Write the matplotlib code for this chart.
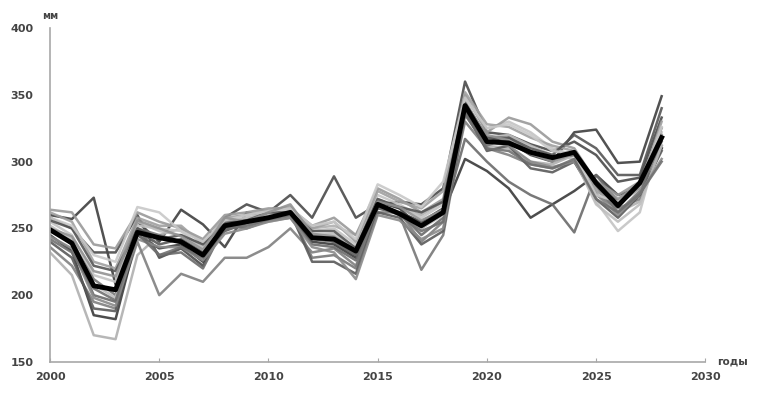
import matplotlib.pyplot as plt

years = list(range(2000, 2029))

# mean over ensemble (thick black line)
mean = [249, 239, 207, 204, 247, 243, 240, 230, 252, 255, 258, 262, 243, 242, 233,
        268, 261, 252, 262, 342, 315, 314, 307, 303, 307, 284, 267, 284, 318]

# ensemble members (grey lines)
m1 = [260, 257, 273, 208, 255, 240, 264, 253, 236, 262, 258, 262, 245, 240, 230,
      265, 262, 255, 265, 345, 318, 315, 305, 300, 322, 324, 299, 300, 349]
m2 = [258, 250, 232, 232, 260, 228, 235, 222, 258, 268, 262, 275, 258, 289, 258,
      268, 270, 268, 280, 360, 322, 320, 313, 308, 315, 305, 285, 288, 333]
m3 = [232, 215, 170, 167, 230, 245, 250, 240, 250, 252, 255, 258, 250, 252, 245,
      272, 265, 260, 270, 340, 312, 310, 300, 298, 305, 280, 262, 270, 318]
m4 = [236, 222, 195, 190, 240, 200, 216, 210, 228, 228, 236, 250, 232, 235, 222,
      262, 262, 240, 255, 330, 310, 305, 298, 295, 300, 275, 265, 272, 310]
m5 = [245, 233, 185, 182, 245, 235, 238, 225, 250, 255, 258, 260, 240, 238, 228,
      270, 265, 250, 262, 302, 293, 280, 258, 268, 278, 290, 275, 280, 310]
m6 = [250, 238, 200, 195, 250, 230, 232, 220, 252, 250, 256, 258, 238, 236, 226,
      265, 262, 245, 258, 317, 300, 285, 275, 268, 247, 290, 270, 282, 312]
m7 = [255, 245, 215, 210, 252, 250, 248, 235, 255, 258, 262, 264, 248, 250, 238,
      275, 268, 258, 268, 348, 325, 330, 322, 310, 305, 270, 248, 262, 322]
m8 = [264, 262, 238, 235, 262, 255, 250, 242, 260, 262, 265, 265, 252, 258, 245,
      280, 272, 262, 272, 350, 322, 333, 328, 315, 310, 285, 275, 285, 325]
m9 = [248, 240, 212, 200, 250, 245, 240, 230, 255, 256, 260, 262, 228, 230, 220,
      268, 260, 219, 245, 335, 312, 318, 308, 302, 305, 282, 262, 278, 315]
m10 = [240, 228, 190, 188, 248, 238, 242, 232, 248, 254, 258, 262, 225, 225, 216,
       262, 258, 238, 248, 338, 308, 312, 295, 292, 300, 272, 258, 275, 308]
m11 = [262, 255, 225, 220, 258, 252, 252, 238, 258, 260, 264, 266, 250, 255, 240,
       278, 270, 265, 278, 352, 328, 326, 318, 312, 308, 278, 268, 280, 330]
m12 = [252, 242, 208, 198, 255, 248, 245, 236, 254, 258, 260, 260, 245, 246, 236,
       268, 262, 250, 260, 345, 318, 320, 312, 305, 302, 268, 255, 268, 312]
m13 = [244, 235, 198, 192, 242, 236, 236, 226, 246, 250, 255, 258, 236, 232, 212,
       260, 256, 242, 250, 340, 315, 312, 300, 296, 300, 276, 260, 276, 302]
m14 = [256, 250, 222, 218, 250, 242, 245, 238, 254, 256, 262, 262, 248, 248, 235,
       272, 266, 262, 270, 344, 318, 318, 310, 305, 320, 310, 290, 290, 340]
m15 = [258, 252, 230, 225, 266, 262, 248, 240, 256, 260, 263, 265, 252, 255, 242,
       283, 275, 266, 285, 348, 325, 328, 320, 308, 306, 275, 270, 282, 326]
m16 = [242, 232, 205, 196, 246, 230, 236, 228, 250, 252, 257, 260, 242, 240, 230,
       266, 260, 248, 255, 336, 310, 308, 298, 295, 302, 272, 262, 276, 300]
m17 = [250, 244, 218, 214, 256, 250, 244, 234, 258, 255, 262, 268, 246, 244, 234,
       270, 266, 256, 264, 342, 320, 316, 306, 300, 306, 286, 272, 284, 320]

members = [m1, m2, m3, m4, m5, m6, m7, m8, m9, m10, m11, m12, m13, m14, m15, m16, m17]
greys = ["#3f3f3f", "#4a4a4a", "#b0b0b0", "#808080", "#3a3a3a", "#6a6a6a",
         "#c4c4c4", "#999999", "#777777", "#5a5a5a", "#a0a0a0", "#bdbdbd",
         "#8a8a8a", "#555555", "#c8c8c8", "#707070", "#929292"]

xticks = [2000, 2005, 2010, 2015, 2020, 2025, 2030]
yticks = [150, 200, 250, 300, 350, 400]

fig = plt.figure(figsize=(7.7, 4.08), dpi=100)
ax = fig.add_axes([0.065, 0.113, 0.851, 0.818])

for m, c in zip(members, greys):
    ax.plot(years, m, color=c, lw=1.8, alpha=0.9)
ax.plot(years, mean, color="black", lw=3.5)

ax.set_xlim(2000, 2030)
ax.set_ylim(150, 400)
ax.set_xticks(xticks)
ax.set_yticks(yticks)
for s in ["top", "right"]:
    ax.spines[s].set_visible(False)
for s in ["left", "bottom"]:
    ax.spines[s].set_color("#a8a8a8")
    ax.spines[s].set_linewidth(1.2)
ax.tick_params(axis="x", direction="in", length=3, color="#a8a8a8", pad=7,
               labelsize=8, labelcolor="#444444")
ax.tick_params(axis="y", length=0, pad=12, labelsize=8, labelcolor="#444444")
for t in ax.get_xticklabels() + ax.get_yticklabels():
    t.set_fontweight("bold")

fig.text(0.065, 0.962, "мм", fontsize=7, fontweight="bold", color="#444444",
         ha="center", va="center")
fig.text(0.951, 0.113, "годы", fontsize=7.5, fontweight="bold", color="#444444",
         ha="center", va="center")

fig.savefig("out.png", dpi=100)
